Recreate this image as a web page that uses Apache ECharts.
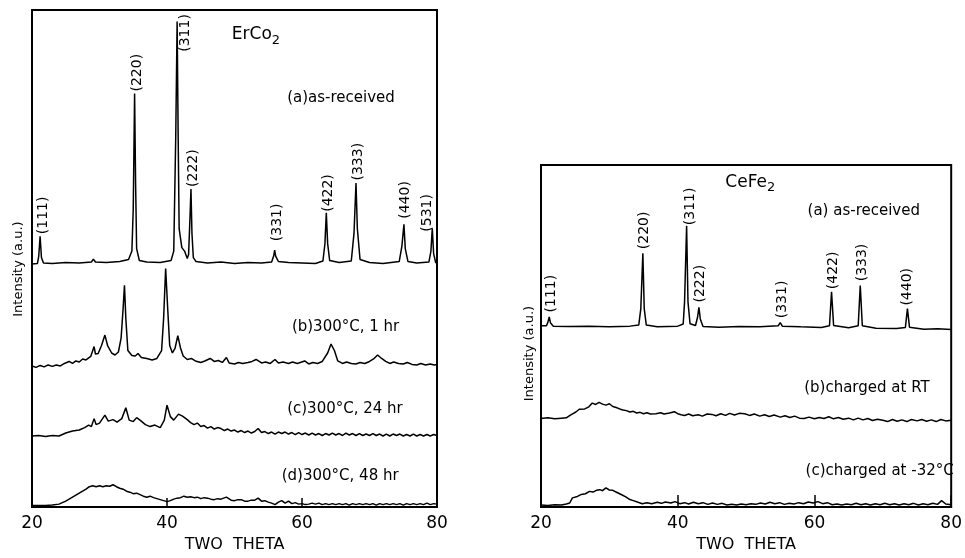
<!DOCTYPE html>
<html><head><meta charset="utf-8">
<script src="https://cdn.jsdelivr.net/npm/echarts@6/dist/echarts.min.js"></script>
<style>html,body{margin:0;padding:0;background:#fff}#c{width:965px;height:558px}</style>
</head><body><div id="c"></div>
<script>
// ---------- data: ErCo2 (left panel), two-theta vs intensity (a.u., offset traces) ----------
const xTicks = [20, 40, 60, 80];
const erA = [[20,48.9],[20.8,49.0],[21.0,50.5],[21.2,54.5],[21.4,50.2],[21.7,49.1],[23,49.0],[25,49.2],[27,49.1],[28.8,49.3],[29.1,49.9],[29.4,49.3],[31,49.2],[33,49.4],[34.3,49.8],[34.8,51.5],[35.0,60],[35.2,83.2],[35.35,65],[35.5,52],[35.9,49.6],[37,49.3],[39,49.2],[40.6,49.6],[41.0,51.5],[41.3,75],[41.5,97.7],[41.65,75],[41.8,56],[42.2,52.2],[42.6,51.5],[43.0,50],[43.2,50.8],[43.4,58],[43.55,64],[43.7,55],[43.9,50.2],[44.3,49.4],[46,49.1],[48,49.3],[50,49.0],[52,49.2],[54,49.1],[55.5,49.3],[55.8,50.5],[55.95,51.7],[56.1,50.5],[56.5,49.4],[58,49.2],[60,49.1],[62,49.0],[63.1,49.5],[63.4,53],[63.6,59.2],[63.8,53],[64.1,49.6],[65.5,49.2],[67.3,49.5],[67.7,55],[68.0,65.2],[68.2,56],[68.6,49.8],[70,49.2],[72,49.0],[74.4,49.4],[74.8,52.5],[75.1,56.9],[75.3,52],[75.7,49.4],[77,49.1],[78.8,49.3],[79.1,51.5],[79.3,56.1],[79.5,51],[79.8,49.2],[80,49.1]];
const erB = [[20,28.4],[20.6,28.1],[21.2,28.5],[21.8,28.2],[22.4,28.6],[23,28.3],[23.6,28.6],[24.2,28.4],[24.8,28.9],[25.5,29.3],[26,28.9],[26.5,29.4],[27,29.2],[27.5,29.8],[28,29.6],[28.7,30.3],[29.0,31.5],[29.2,32.3],[29.4,30.8],[29.8,30.9],[30.3,32.5],[30.8,34.6],[31.2,32.5],[31.8,31.0],[32.3,30.6],[32.8,31.2],[33.2,34],[33.5,40],[33.7,44.6],[33.9,38],[34.2,31.5],[34.8,30.5],[35.3,30.4],[35.7,30.9],[36.2,30.1],[37,29.9],[37.8,29.6],[38.5,29.9],[39.2,31.5],[39.5,38],[39.8,48],[40.1,40],[40.4,32.5],[40.8,31.0],[41.2,32],[41.6,34.5],[42.0,32],[42.4,30.4],[43,29.7],[43.6,29.9],[44.2,29.4],[45,29.1],[45.6,29.4],[46.4,29.9],[47,29.3],[47.6,29.5],[48.2,29.1],[48.8,30.1],[49.2,29.0],[50,28.8],[50.6,29.1],[51.2,28.9],[52,29.1],[52.6,29.3],[53.2,29.7],[54,29.0],[54.6,29.2],[55.3,28.9],[56,29.7],[56.5,29.0],[57.2,29.2],[58,28.9],[58.6,29.2],[59.3,28.9],[60.4,29.4],[61,28.8],[61.6,29.1],[62.3,28.9],[63,29.3],[63.8,31],[64.3,32.8],[64.8,31.5],[65.3,29.4],[66,28.9],[66.6,29.2],[67.3,28.9],[68,28.8],[68.6,29.1],[69.3,28.9],[70,29.3],[70.6,29.8],[71.2,30.6],[71.8,29.9],[72.4,29.3],[73,28.9],[73.6,29.2],[74.3,28.9],[75,28.8],[75.6,29.1],[76.3,28.7],[77,28.6],[77.6,28.9],[78.3,28.6],[79,28.8],[79.6,28.6],[80,28.7]];
const erC = [[20,14.3],[21,14.4],[22,14.2],[23,14.4],[24,14.3],[25,14.9],[26,15.3],[27,15.5],[27.8,16.0],[28.4,16.5],[28.8,16.2],[29.2,17.8],[29.5,16.6],[30,16.9],[30.8,18.5],[31.3,17.3],[32,17.6],[32.6,17.1],[33.3,17.8],[33.9,20.0],[34.4,17.5],[35,17.2],[35.5,18.0],[36,17.5],[36.8,16.6],[37.5,16.2],[38.2,16.5],[39,16.0],[39.6,17.5],[40.0,20.5],[40.5,18.2],[41,17.5],[41.7,18.7],[42.3,18.3],[43,17.6],[43.5,17.0],[44,16.6],[44.5,16.9],[45,16.2],[45.5,16.4],[46,15.9],[46.5,16.2],[47,15.7],[47.5,16.0],[48,15.8],[48.5,15.4],[49,15.7],[49.5,15.3],[50,15.5],[50.5,15.1],[51,15.4],[51.5,15.0],[52,15.3],[52.5,14.9],[53,15.2],[53.5,15.8],[54,15.0],[54.5,15.2],[55,14.8],[55.5,15.1],[56,14.7],[56.5,15.1],[57,14.8],[57.5,15.1],[58,14.7],[58.5,15.0],[59,14.6],[59.5,15.0],[60,14.6],[60.5,14.9],[61,14.5],[61.5,14.9],[62,14.5],[62.5,14.8],[63,14.4],[63.5,14.8],[64,14.5],[64.5,14.9],[65,14.5],[65.5,14.8],[66,14.4],[66.5,14.9],[67,14.5],[67.5,14.8],[68,14.4],[68.5,14.8],[69,14.4],[69.5,14.7],[70,14.4],[70.5,14.8],[71,14.4],[71.5,14.7],[72,14.3],[72.5,14.7],[73,14.3],[73.5,14.7],[74,14.4],[74.5,14.7],[75,14.3],[75.5,14.6],[76,14.3],[76.5,14.7],[77,14.3],[77.5,14.6],[78,14.3],[78.5,14.6],[79,14.3],[79.5,14.6],[80,14.4]];
const erD = [[20,0.3],[22,0.3],[23,0.4],[24,0.6],[25,1.2],[26,2.0],[27,2.8],[28,3.6],[28.5,4.1],[29,4.3],[29.5,4.1],[30,4.3],[30.5,4.1],[31,4.3],[31.5,4.2],[32,4.5],[32.5,4.1],[33,3.8],[33.5,3.6],[34,3.2],[34.5,3.0],[35,2.7],[35.5,2.8],[36,2.5],[36.5,2.2],[37,2.0],[37.5,2.2],[38,1.9],[38.5,1.7],[39,1.5],[39.5,1.3],[40,1.1],[40.5,1.3],[41,1.6],[41.5,1.8],[42,1.9],[42.5,2.2],[43,2.0],[43.5,2.1],[44,1.9],[44.5,2.0],[45,1.7],[45.5,1.9],[46,1.8],[46.5,1.6],[47,1.5],[47.5,1.7],[48,1.6],[48.8,2.0],[49.5,1.4],[50,1.3],[50.5,1.5],[51,1.5],[51.5,1.2],[52,1.2],[52.5,1.4],[53,1.4],[53.5,1.8],[54,1.2],[54.5,1.3],[55,1.0],[55.5,0.8],[56,0.5],[56.5,1.0],[57,1.3],[57.5,0.8],[58,1.2],[58.5,0.7],[59,0.9],[59.5,0.6],[60,0.7],[60.5,0.5],[61,0.6],[61.5,0.8],[62,0.6],[62.5,0.8],[63,0.5],[63.5,0.7],[64,0.5],[64.5,0.7],[65,0.5],[65.5,0.7],[66,0.5],[66.5,0.7],[67,0.4],[67.5,0.7],[68,0.5],[68.5,0.7],[69,0.5],[69.5,0.7],[70,0.5],[70.5,0.7],[71,0.4],[71.5,0.7],[72,0.5],[72.5,0.7],[73,0.5],[73.5,0.7],[74,0.5],[74.5,0.7],[75,0.4],[75.5,0.7],[76,0.5],[76.5,0.7],[77,0.5],[77.5,0.7],[78,0.5],[78.5,0.8],[79,0.5],[79.5,0.7],[80,0.6]];
const erPeakLabels = ['(111)','(220)','(311)','(222)','(331)','(422)','(333)','(440)','(531)'];
const erPeakLabelAt = [[21.63,54.9],[35.56,83.6],[42.75,91.6],[43.85,64.4],[56.3,53.5],[63.85,59.4],[68.3,65.7],[75.26,58.0],[78.5,55.4]];
const erNotes = ['ErCo₂','(a)as-received','(b)300°C, 1 hr','(c)300°C, 24 hr','(d)300°C, 48 hr'];
const erNoteAt = [[49.6,95.0],[57.8,82.2],[58.5,36.2],[57.8,19.8],[57.0,6.3]];

// ---------- data: CeFe2 (right panel) ----------
const ceA = [[20,53.0],[20.8,53.0],[21.0,54.0],[21.2,55.6],[21.4,53.8],[21.8,52.9],[24,52.8],[27,52.9],[30,52.7],[33,52.9],[34.3,53.2],[34.6,58],[34.9,74.2],[35.1,58],[35.4,53.2],[37,52.7],[40,52.9],[40.8,53.5],[41.0,60],[41.3,82.2],[41.5,60],[41.8,53.6],[42.6,53.1],[42.9,55.5],[43.1,58.4],[43.3,55],[43.7,52.8],[46,52.6],[49,52.8],[52,52.7],[54.7,53.0],[55.0,53.9],[55.3,52.9],[58,52.7],[61,52.5],[62.2,53],[62.5,62.9],[62.8,53.1],[65,52.4],[66.4,53],[66.7,64.8],[67.0,53],[69,52.3],[72,52.2],[73.3,52.5],[73.6,58.0],[73.9,52.6],[76,52.0],[78,52.1],[80,51.9]];
const ceB = [[20,25.9],[21,26.1],[22,25.8],[23,26.0],[23.7,26.1],[24.3,26.9],[25.1,27.8],[25.6,28.6],[26.4,28.7],[27,29.3],[27.5,30.4],[28,30.0],[28.5,30.6],[29,30.1],[29.5,29.8],[30,30.2],[30.5,29.4],[31,29.1],[31.5,28.7],[32,28.4],[32.5,28.2],[33,27.8],[33.5,28.0],[34,27.5],[34.5,27.7],[35,27.3],[35.5,27.6],[36,27.2],[36.8,27.3],[37.5,27.6],[38,27.2],[38.8,27.5],[39.5,27.9],[40,27.3],[40.5,27.0],[41,26.8],[41.6,27.2],[42.2,26.7],[43,27.0],[43.6,26.6],[44.3,27.2],[45,27.1],[45.6,26.7],[46.3,27.3],[47,26.8],[47.6,27.4],[48.3,26.9],[49,27.4],[49.8,27.3],[50.5,26.8],[51.2,27.2],[52,26.6],[52.7,27.0],[53.4,26.5],[54.1,26.9],[55,26.3],[55.7,26.7],[56.4,26.2],[57.1,26.6],[57.8,26.0],[58.5,25.9],[59.2,26.3],[60,25.8],[60.7,26.2],[61.4,25.9],[62.1,26.4],[62.8,25.8],[63.5,26.2],[64.2,25.7],[65,26.0],[65.7,25.5],[66.4,26.0],[67.1,25.5],[67.8,25.9],[68.5,25.3],[69.2,25.7],[70,25.4],[70.7,25.0],[71.4,25.6],[72.1,25.1],[72.8,25.5],[73.5,25.0],[74.2,25.6],[75,25.2],[75.7,25.6],[76.4,25.1],[77.1,25.5],[77.8,25.0],[78.5,25.6],[79.2,25.2],[80,25.4]];
const ceC = [[20,0.6],[21,0.5],[22,0.7],[23,0.6],[23.7,0.9],[24.2,1.2],[24.6,2.7],[25.2,3.0],[25.9,3.7],[26.5,3.9],[27.1,4.6],[27.6,4.4],[28.1,4.9],[28.6,5.1],[29.0,4.8],[29.5,5.6],[30,5.0],[30.5,4.9],[31.2,4.2],[31.8,3.6],[32.4,3.0],[32.9,2.3],[33.5,1.9],[34.2,1.4],[34.8,1.0],[35.5,1.3],[36.2,1.0],[37,1.4],[37.6,1.1],[38.2,1.5],[39,1.2],[39.6,1.6],[40.3,1.0],[41,1.3],[41.6,0.9],[42.3,1.4],[43,1.0],[43.7,1.3],[44.4,0.8],[45.1,1.2],[45.8,0.8],[46.5,1.1],[47.2,0.6],[47.9,0.8],[48.6,0.6],[49.3,0.9],[50,0.7],[50.7,1.0],[51.4,0.8],[52.1,1.2],[52.8,0.9],[53.5,1.4],[54.2,1.0],[54.9,1.3],[55.6,0.8],[56.3,1.1],[57,0.9],[57.7,1.3],[58.4,1.0],[59.1,1.5],[59.8,1.2],[60.5,1.6],[61.2,1.0],[61.9,1.3],[62.6,0.7],[63.3,0.9],[64,0.6],[64.7,0.9],[65.4,0.7],[66.1,1.1],[66.8,0.7],[67.5,1.0],[68.2,0.6],[68.9,1.0],[69.6,0.7],[70.3,1.1],[71,0.7],[71.7,1.0],[72.4,0.6],[73.1,1.0],[73.8,0.7],[74.5,1.1],[75.2,0.6],[75.9,1.0],[76.6,0.7],[77.3,1.1],[78,0.8],[78.6,1.9],[79.2,0.9],[80,0.7]];
const cePeakLabels = ['(111)','(220)','(311)','(222)','(331)','(422)','(333)','(440)'];
const cePeakLabelAt = [[21.55,56.9],[35.17,75.4],[41.84,82.4],[43.38,59.8],[55.36,55.2],[62.7,63.7],[67.06,66.0],[73.58,58.9]];
const ceNotes = ['CeFe₂','(a) as-received','(b)charged at RT','(c)charged at -32°C'];
const ceNoteAt = [[46.96,94.9],[58.99,86.4],[58.5,34.8],[58.7,10.5]];

// ---------- chart ----------
const FONT = 'DejaVu Sans';
const chart = echarts.init(document.getElementById('c'), null, {renderer: 'canvas'});

function xAxisFor(gi, tickLen, nameGap) {
  return {
    type: 'value', gridIndex: gi, min: 20, max: 80, interval: 20,
    name: 'TWO  THETA', nameLocation: 'middle', nameGap: nameGap,
    nameTextStyle: {color: '#000', fontFamily: FONT, fontSize: 16},
    axisLine: {show: true, lineStyle: {color: '#000', width: 2}},
    axisTick: {show: true, inside: true, length: tickLen, lineStyle: {color: '#000', width: 1.5}},
    axisLabel: {color: '#000', fontFamily: FONT, fontSize: 17, margin: 8,
      customValues: xTicks, formatter: v => String(v)},
    splitLine: {show: false}
  };
}
function yAxisFor(gi, nameGap, shift) {
  return {
    type: 'value', gridIndex: gi, min: 0, max: 100,
    name: 'Intensity (a.u.)', nameLocation: 'middle', nameGap: nameGap,
    nameTextStyle: {color: '#000', fontFamily: FONT, fontSize: 13, padding: [0, shift, 0, 0]},
    axisLine: {show: true, lineStyle: {color: '#000', width: 2}},
    axisTick: {show: false}, axisLabel: {show: false}, splitLine: {show: false}
  };
}
function trace(data, i) {
  return {type: 'line', xAxisIndex: i, yAxisIndex: i, data: data, showSymbol: false, symbol: 'none',
    lineStyle: {color: '#000', width: 1.5}, silent: true, z: 3};
}
function peakTags(at, texts, i) {
  return {type: 'scatter', xAxisIndex: i, yAxisIndex: i, symbolSize: 0, silent: true, z: 5,
    itemStyle: {opacity: 1},
    data: at.map((p, k) => ({value: p, name: texts[k]})),
    label: {show: true, position: 'inside', formatter: p => p.name, rotate: 90, align: 'left', verticalAlign: 'middle',
      color: '#000', opacity: 1, fontFamily: FONT, fontSize: 14}};
}
function notes(at, texts, i) {
  return {type: 'scatter', xAxisIndex: i, yAxisIndex: i, symbolSize: 0, silent: true, z: 5,
    itemStyle: {opacity: 1},
    data: at.map((p, k) => ({value: p, name: texts[k]})),
    label: {show: true, position: 'inside', align: 'left', verticalAlign: 'middle',
      formatter: p => p.name.indexOf('₂') >= 0 ? '{m|' + p.name.replace('₂', '') + '}{s|2}' : p.name,
      rich: {m: {fontFamily: FONT, fontSize: 17, color: '#000'},
             s: {fontFamily: FONT, fontSize: 13, color: '#000', padding: [11, 0, 0, 0]}},
      color: '#000', opacity: 1, fontFamily: FONT, fontSize: 15}};
}

chart.setOption({
  animation: false,
  backgroundColor: '#fff',
  grid: [
    {left: 32, top: 10, width: 405, height: 505, show: true, borderColor: '#000', borderWidth: 2, backgroundColor: 'transparent'},
    {left: 541, top: 165, width: 414, height: 353, show: true, borderColor: '#000', borderWidth: 2, backgroundColor: 'transparent'}
  ],
  xAxis: [xAxisFor(0, 9, 29), xAxisFor(1, 12, 27)],
  yAxis: [yAxisFor(0, 7, 21), yAxisFor(1, 5, 35)],
  series: [
    trace(erA, 0), trace(erB, 0), trace(erC, 0), trace(erD, 0),
    peakTags(erPeakLabelAt, erPeakLabels, 0), notes(erNoteAt, erNotes, 0),
    trace(ceA, 1), trace(ceB, 1), trace(ceC, 1),
    peakTags(cePeakLabelAt, cePeakLabels, 1), notes(ceNoteAt, ceNotes, 1)
  ]
});
</script>
</body></html>
